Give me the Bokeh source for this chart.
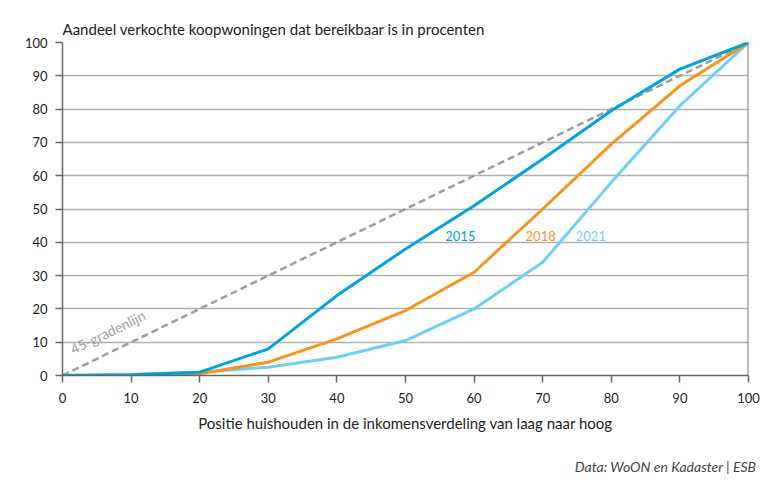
from bokeh.plotting import figure
from bokeh.models import Span, Label, Title, FixedTicker
from bokeh.embed import file_html
from bokeh.resources import INLINE

x_pos = [0, 10, 20, 30, 40, 50, 60, 70, 80, 90, 100]
y_2015 = [0, 0.2, 1, 8, 24, 38, 51, 65, 79.5, 92, 100]
y_2018 = [0, 0, 0.5, 4, 11, 19.5, 31, 50, 69.5, 87, 100]
y_2021 = [0, 0.3, 1, 2.5, 5.5, 10.5, 20, 34, 58, 81, 100]
diag = [0, 100]
ticks = [0, 10, 20, 30, 40, 50, 60, 70, 80, 90, 100]

FONT = "Lato"
C15, C18, C21 = "#00a3e0", "#f7941d", "#6dcff6"

p = figure(frame_width=686, frame_height=333, output_backend="svg", toolbar_location=None,
           x_range=(0, 100), y_range=(0, 100),
           min_border_left=62, min_border_right=16, min_border_top=42, min_border_bottom=100)
p.outline_line_color = None
p.background_fill_color = "white"
p.border_fill_color = "white"

p.line(diag, diag, line_color="#9d9d9d", line_width=2.5, line_dash="7 4")
p.line(x_pos, y_2021, line_color=C21, line_width=3)
p.line(x_pos, y_2018, line_color=C18, line_width=3)
p.line(x_pos, y_2015, line_color=C15, line_width=3)

p.add_layout(Span(location=100, dimension="height", line_color="#7a7a7a", line_width=2))

for txt, xx, col in [("2015", 55.8, C15), ("2018", 67.5, C18), ("2021", 74.8, C21)]:
    p.add_layout(Label(x=xx, y=42, text=txt, text_color=col, text_font=FONT,
                       text_font_size="13px", text_baseline="middle"))
p.add_layout(Label(x=1.8, y=5.4, text="45-gradenlijn", text_color="#a0a0a0", text_font=FONT,
                   text_font_size="14px", angle=25.9, angle_units="deg"))

p.xgrid.grid_line_color = None
p.ygrid.grid_line_color = "#b0b0b0"
p.ygrid.grid_line_width = 1.5
p.ygrid.ticker = FixedTicker(ticks=ticks)

for ax in (p.xaxis, p.yaxis):
    ax.ticker = FixedTicker(ticks=ticks)
    ax.axis_line_color = "#666666"
    ax.axis_line_width = 1.5
    ax.major_tick_line_color = "#666666"
    ax.major_tick_line_width = 1.5
    ax.major_tick_out = 7
    ax.major_tick_in = 0
    ax.minor_tick_line_color = None
    ax.major_label_text_font = FONT
    ax.major_label_text_font_size = "13px"
    ax.major_label_text_color = "#222222"
p.yaxis.major_label_standoff = 8
p.xaxis.major_label_standoff = 10
p.xaxis.axis_label = "Positie huishouden in de inkomensverdeling van laag naar hoog"
p.xaxis.axis_label_text_font = FONT
p.xaxis.axis_label_text_font_size = "15px"
p.xaxis.axis_label_text_font_style = "normal"
p.xaxis.axis_label_text_color = "#222222"
p.xaxis.axis_label_standoff = 8

p.add_layout(Title(text="Data: WoON en Kadaster | ESB", align="right", text_font=FONT,
                   text_font_size="14px", text_font_style="italic", text_color="#444444",
                   offset=-8, standoff=43), "below")
p.add_layout(Title(text="Aandeel verkochte koopwoningen dat bereikbaar is in procenten", align="left",
                   text_font=FONT, text_font_size="15px", text_font_style="normal",
                   text_color="#222222", offset=0), "above")

open("out.html", "w").write(file_html(p, INLINE))
